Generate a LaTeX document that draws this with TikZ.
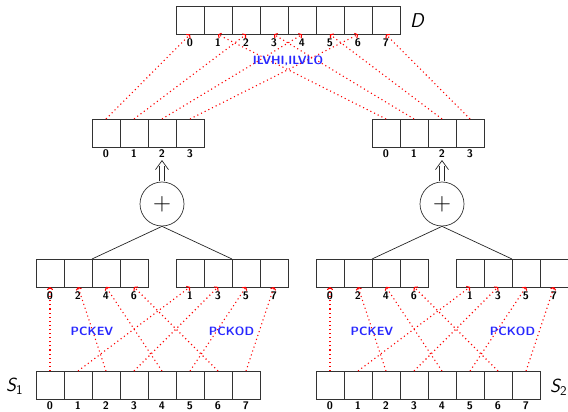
\documentclass[tikz,border=0pt]{standalone}
\usetikzlibrary{arrows.meta}
\definecolor{opblue}{RGB}{40,40,255}
\begin{document}
\begin{tikzpicture}[x=1pt,y=-1pt,
  cell/.style={draw=black!80, line width=0.7pt, minimum width=28pt, minimum height=28pt, inner sep=0pt, outer sep=0pt},
  idx/.style={font=\sffamily\bfseries\fontsize{11}{12}\selectfont, inner sep=1pt},
  perm/.style={red, line width=1.1pt, dash pattern=on 1.1pt off 3pt, -{To[length=3pt,width=6pt]}},
  opname/.style={font=\sffamily\bfseries\fontsize{12}{14}\selectfont, text=opblue},
  adder/.style={draw=black!80, circle, line width=0.7pt, minimum size=44pt, inner sep=0pt},
  regname/.style={font=\sffamily\itshape\fontsize{19}{20}\selectfont, inner sep=0pt},
  tree/.style={draw=black!85, line width=0.7pt},
  chevron/.style={draw=black!85, line width=0.7pt}
]
\useasboundingbox (0,0) rectangle (568,412);

% destination register D
\foreach \i in {0,...,7} {
  \node[cell] (D\i) at (190+28*\i,20.5) {};
  \node[idx] (Dl\i) at (190+28*\i,43) {\i};
}
\node[regname, font=\sffamily\itshape\fontsize{20}{20}\selectfont] (Dname) at (417,21) {D};

% two source registers and their packed halves
\foreach \side/\off in {L/0,R/280} {
  \foreach \i in {0,...,7} {
    \node[cell] (S\side\i) at (50+\off+28*\i,385) {};
    \node[idx] (Sl\side\i) at (50+\off+28*\i,406) {\i};
  }
  \foreach \i in {0,...,3} {
    \pgfmathtruncatemacro{\ev}{2*\i}
    \pgfmathtruncatemacro{\od}{2*\i+1}
    \node[cell] (E\side\i) at (50+\off+28*\i,273) {};
    \node[idx] (El\side\i) at (50+\off+28*\i,296) {\ev};
    \node[cell] (O\side\i) at (190+\off+28*\i,273) {};
    \node[idx] (Ol\side\i) at (190+\off+28*\i,296) {\od};
    \node[cell] (M\side\i) at (106+\off+28*\i,133) {};
    \node[idx] (Ml\side\i) at (106+\off+28*\i,153.5) {\i};
    % PCKEV / PCKOD
    \draw[perm] (S\side\ev.north) -- (E\side\i.south);
    \draw[perm] (S\side\od.north) -- (O\side\i.south);
  }
  \node[adder] (A\side) at (162+\off,204) {\fontsize{26}{26}\selectfont$+$};
  \draw[tree] (A\side.south) -- (E\side1.north east);
  \draw[tree] (A\side.south) -- (O\side1.north east);
  % sum fed up into lane 2: double shaft with an open head
  \coordinate (tip\side) at ([yshift=-2pt]Ml\side2.south);
  \coordinate (base\side) at ([yshift=-5pt]tip\side);
  \path[chevron] ([xshift=-2.3pt,yshift=0.2pt]A\side.north) -- ([xshift=-2.3pt]base\side);
  \path[chevron] ([xshift=2.3pt,yshift=0.2pt]A\side.north) -- ([xshift=2.3pt]base\side);
  \path[chevron] ([xshift=-6.5pt,yshift=-9pt]tip\side) -- (tip\side) -- ([xshift=6.5pt,yshift=-9pt]tip\side);
}

\node[opname] (pe1) at (92,331.5) {PCKEV};
\node[opname] (po1) at (231.5,331.5) {PCKOD};
\node[opname] (pe2) at (372,331.5) {PCKEV};
\node[opname] (po2) at (512.5,331.5) {PCKOD};

% ILVHI / ILVLO interleave into D
\foreach \i in {0,...,3} {
  \pgfmathtruncatemacro{\dl}{2*\i}
  \pgfmathtruncatemacro{\dr}{2*\i+1}
  \draw[perm] (ML\i.north) -- (D\dl.south);
  \draw[perm] (MR\i.north) -- (D\dr.south);
}
\node[opname] (ilv) at (288,61) {ILVHI,ILVLO};

\node[regname, anchor=west] (S1name) at (6,386) {S\textsubscript{\upshape 1}};
\node[regname, anchor=west] (S2name) at (550,387) {S\textsubscript{\upshape 2}};
\end{tikzpicture}
\end{document}
